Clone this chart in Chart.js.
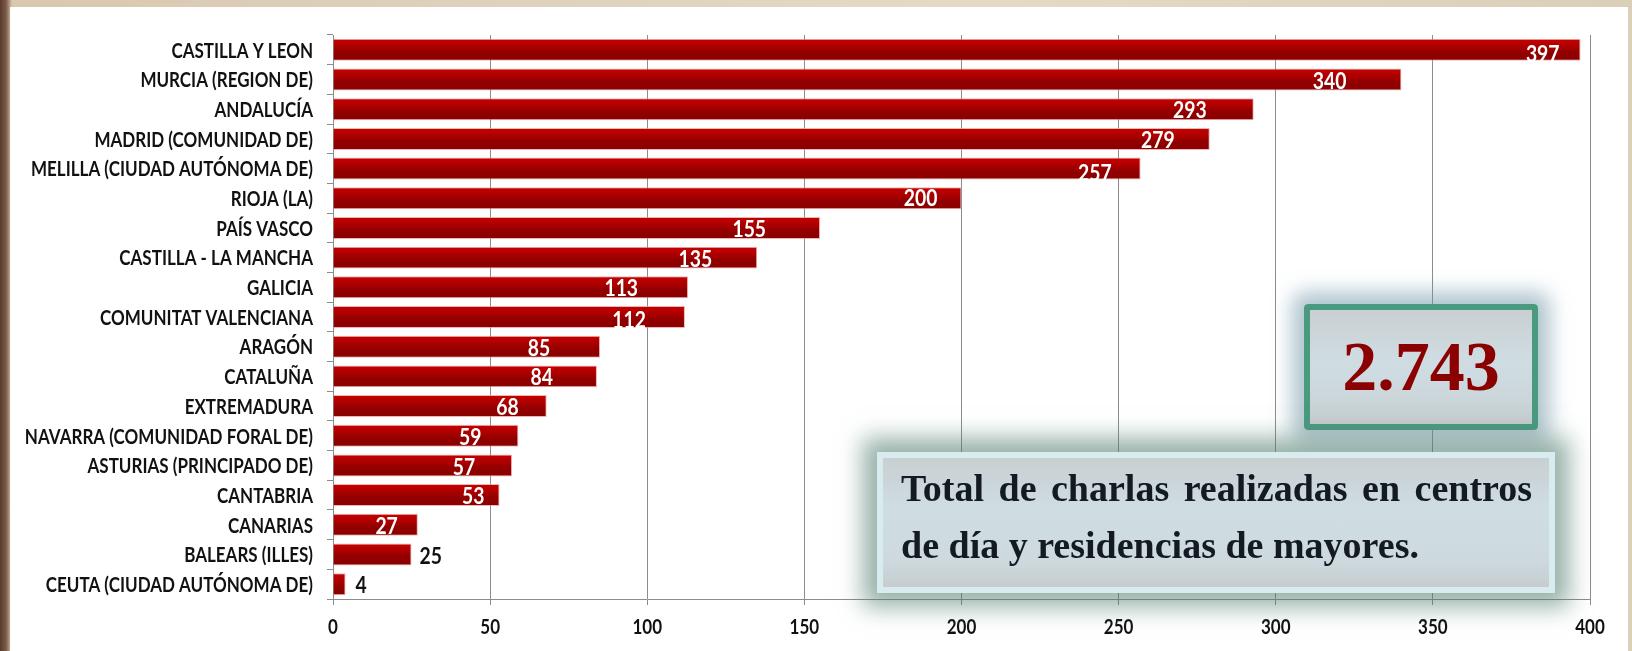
<!DOCTYPE html>
<html>
<head>
<meta charset="utf-8">
<script src="https://cdn.jsdelivr.net/npm/chart.js@4"></script>
<style>
  html, body { margin: 0; padding: 0; }
  body {
    width: 1632px; height: 651px; overflow: hidden; position: relative;
    background: linear-gradient(90deg, #5a3a2c 0px, #7a5a48 6px, #d8c8b0 12px, #e6dac6 60%, #dccfb8 100%);
  }
  #panel {
    position: absolute; left: 10px; top: 7px; width: 1618px; height: 644px;
    background: #fff;
  }
  #totalBox {
    position: absolute; left: 1304px; top: 304px; width: 222px; height: 114px;
    border: 6px solid #4a9a80; border-radius: 4px;
    background: linear-gradient(180deg, #c9cfd2 0%, #cfdde3 45%, #cbd6da 80%, #c6cccf 100%);
    box-shadow: 0 0 20px 12px rgba(110, 150, 165, 0.55);
    font-family: "Liberation Serif", serif; font-weight: bold; color: #8b0000;
    font-size: 70px; line-height: 114px; text-align: center;
  }
  #textBox {
    position: absolute; left: 877px; top: 452px; width: 666px; height: 129px;
    border: 6px solid #d8ecef;
    background: linear-gradient(180deg, #c8cfd1 0%, #cfdde3 40%, #cdd9de 80%, #c6cdcf 100%);
    box-shadow: 0 0 22px 14px rgba(80, 125, 108, 0.6);
  }
  .line {
    position: absolute; left: 18px; width: 631px;
    font-family: "Liberation Serif", serif; font-weight: bold; color: #141a22;
    font-size: 38px; line-height: 40px; white-space: nowrap;
  }
  #l1 { top: 10px; text-align: justify; text-align-last: justify; }
  #l2 { top: 67px; }
</style>
</head>
<body>
<div id="panel"><canvas id="grafico"></canvas></div>
<div id="totalBox">2.743</div>
<div id="textBox">
  <div class="line" id="l1">Total de charlas realizadas en centros</div>
  <div class="line" id="l2">de día y residencias de mayores.</div>
</div>
<script>
  const regiones = [
    "CASTILLA Y LEON", "MURCIA (REGION DE)", "ANDALUCÍA", "MADRID (COMUNIDAD DE)",
    "MELILLA (CIUDAD AUTÓNOMA DE)", "RIOJA (LA)", "PAÍS VASCO", "CASTILLA - LA MANCHA",
    "GALICIA", "COMUNITAT VALENCIANA", "ARAGÓN", "CATALUÑA", "EXTREMADURA",
    "NAVARRA (COMUNIDAD FORAL DE)", "ASTURIAS (PRINCIPADO DE)", "CANTABRIA",
    "CANARIAS", "BALEARS (ILLES)", "CEUTA (CIUDAD AUTÓNOMA DE)"
  ]
  const charlas = [397, 340, 293, 279, 257, 200, 155, 135, 113, 112, 85, 84, 68, 59, 57, 53, 27, 25, 4]
  const ejeMin = 0
  const ejeMax = 400
  const ejePaso = 50

  // hand-placed data labels: gap (px) between bar end and label end, as in the original
  const hueco = [21, 55, 47, 35, 29, 24, 54, 45, 50, 39, 50, 44, 28, 37, 37, 15, 20, -8, -10]
  const bajada = [5, 2, 2, 2, 5, 1, 2, 2, 2, 4, 2, 2, 2, 2, 2, 2, 2, 2, 2]

  const grosor = 0.74
  const estrecho = 0.81   // the source text is horizontally condensed

  function relleno(ctx) {
    let chart = ctx.chart
    let y = chart.scales.y
    if (!y || !chart.chartArea) return "#a00000"
    let c = y.getPixelForValue(ctx.dataIndex)
    let h = (y.bottom - y.top) / regiones.length * grosor
    let g = chart.ctx.createLinearGradient(0, c - h / 2, 0, c + h / 2)
    g.addColorStop(0, "#c80000")
    g.addColorStop(0.4, "#a80000")
    g.addColorStop(0.6, "#920000")
    g.addColorStop(1, "#8a0000")
    return g
  }

  function texto(ctx, s, x, y, align, sx) {
    ctx.save()
    ctx.translate(x, y)
    ctx.scale(sx, 1)
    ctx.textAlign = align
    ctx.fillText(s, 0, 0)
    ctx.restore()
  }

  const etiquetas = {
    id: "etiquetas",
    afterDatasetsDraw(chart) {
      let ctx = chart.ctx
      let meta = chart.getDatasetMeta(0)
      let sy = chart.scales.y
      let sx = chart.scales.x
      ctx.save()
      ctx.textBaseline = "middle"

      // valores
      ctx.font = "bold 22px Lato"
      meta.data.forEach((bar, i) => {
        let v = String(charlas[i])
        if (hueco[i] > 0) {
          ctx.fillStyle = "#ffffff"
          texto(ctx, v, bar.x - hueco[i], bar.y + bajada[i], "right", 0.88)
        } else {
          ctx.fillStyle = "#111111"
          texto(ctx, v, bar.x - hueco[i], bar.y + bajada[i], "left", 0.88)
        }
      })

      // categorias
      ctx.font = "bold 21px Lato"
      ctx.fillStyle = "#111111"
      regiones.forEach((r, i) => {
        texto(ctx, r, sy.right - 20, sy.getPixelForValue(i) + 1, "right", estrecho)
      })

      // eje x
      sx.ticks.forEach(t => {
        texto(ctx, String(t.value), sx.getPixelForValue(t.value), chart.chartArea.bottom + 28, "center", estrecho)
      })
      ctx.restore()
    }
  }

  new Chart(document.getElementById("grafico"), {
    type: "bar",
    data: {
      labels: regiones,
      datasets: [{
        data: charlas,
        backgroundColor: relleno,
        borderColor: "rgba(230,150,150,0.7)",
        borderWidth: 1,
        barPercentage: grosor,
        categoryPercentage: 1
      }]
    },
    options: {
      indexAxis: "y",
      responsive: true,
      maintainAspectRatio: false,
      animation: false,
      layout: { padding: { top: 28, right: 38, bottom: 0, left: 0 } },
      plugins: { legend: { display: false }, tooltip: { enabled: false } },
      scales: {
        x: {
          min: ejeMin, max: ejeMax,
          ticks: { stepSize: ejePaso, color: "rgba(0,0,0,0)", padding: 13, font: { family: "Lato", weight: "bold", size: 17 } },
          grid: { color: "#8c8c8c", lineWidth: 1, tickLength: 6, tickColor: "#8c8c8c" },
          border: { color: "#8c8c8c" },
          afterFit(s) { s.height = 52 }
        },
        y: {
          offset: true,
          ticks: { autoSkip: false, color: "rgba(0,0,0,0)", padding: 12, font: { family: "Lato", weight: "bold", size: 17 } },
          grid: { offset: true, drawOnChartArea: false, tickLength: 6, tickColor: "#8c8c8c" },
          border: { color: "#8c8c8c" },
          afterFit(s) { s.width = 323 }
        }
      }
    },
    plugins: [etiquetas]
  })
</script>
</body>
</html>
